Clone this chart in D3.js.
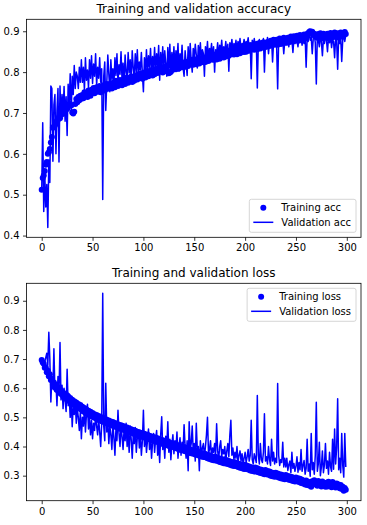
<!DOCTYPE html>
<html>
<head>
<meta charset="utf-8">
<script src="https://cdn.jsdelivr.net/npm/d3@7"></script>
<style>
  body { margin: 0; background: #fff; }
  text { font-family: "DejaVu Sans", sans-serif; fill: #000; }
</style>
</head>
<body>
<div id="chart"></div>
<script>
// values, one per epoch (0..299)
const trainAcc = [
  0.512,0.541,0.547,0.558,0.573,0.580,0.600,0.604,0.612,0.628,
  0.641,0.664,0.667,0.670,0.674,0.681,0.684,0.689,0.687,0.695,
  0.701,0.698,0.706,0.709,0.712,0.710,0.716,0.719,0.722,0.718,
  0.701,0.699,0.703,0.722,0.734,0.726,0.739,0.731,0.742,0.735,
  0.744,0.736,0.751,0.741,0.748,0.739,0.755,0.747,0.742,0.757,
  0.750,0.761,0.748,0.757,0.763,0.752,0.759,0.766,0.751,0.762,
  0.758,0.768,0.755,0.764,0.771,0.759,0.766,0.762,0.773,0.760,
  0.767,0.775,0.763,0.779,0.772,0.766,0.774,0.781,0.770,0.768,
  0.776,0.784,0.771,0.780,0.787,0.774,0.782,0.778,0.789,0.776,
  0.784,0.779,0.792,0.788,0.782,0.795,0.790,0.786,0.797,0.784,
  0.791,0.799,0.787,0.796,0.803,0.790,0.798,0.794,0.805,0.792,
  0.800,0.795,0.807,0.804,0.798,0.810,0.806,0.802,0.812,0.799,
  0.806,0.813,0.802,0.810,0.816,0.797,0.799,0.801,0.815,0.806,
  0.811,0.819,0.807,0.816,0.822,0.809,0.817,0.813,0.824,0.812,
  0.817,0.813,0.825,0.822,0.815,0.828,0.823,0.819,0.830,0.818,
  0.823,0.831,0.819,0.828,0.834,0.821,0.829,0.825,0.836,0.824,
  0.829,0.825,0.837,0.834,0.827,0.840,0.835,0.831,0.842,0.830,
  0.835,0.843,0.831,0.840,0.846,0.833,0.841,0.837,0.848,0.836,
  0.842,0.838,0.850,0.847,0.840,0.853,0.848,0.844,0.855,0.843,
  0.848,0.856,0.844,0.853,0.859,0.846,0.854,0.850,0.861,0.849,
  0.854,0.850,0.862,0.859,0.852,0.865,0.860,0.856,0.867,0.855,
  0.860,0.868,0.856,0.865,0.871,0.858,0.866,0.862,0.873,0.861,
  0.866,0.862,0.874,0.871,0.864,0.877,0.872,0.868,0.879,0.867,
  0.871,0.879,0.867,0.876,0.882,0.869,0.877,0.873,0.884,0.872,
  0.876,0.872,0.884,0.881,0.874,0.887,0.882,0.878,0.888,0.877,
  0.881,0.889,0.877,0.886,0.891,0.879,0.887,0.883,0.892,0.882,
  0.887,0.893,0.895,0.898,0.900,0.896,0.899,0.891,0.894,0.888,
  0.891,0.884,0.893,0.887,0.895,0.882,0.890,0.894,0.885,0.891,
  0.886,0.894,0.883,0.890,0.896,0.884,0.892,0.888,0.897,0.886,
  0.889,0.895,0.884,0.892,0.897,0.887,0.894,0.890,0.898,0.893
];
const valAcc = [
  0.510,0.676,0.459,0.552,0.470,0.525,0.420,0.585,0.530,0.766,
  0.760,0.582,0.720,0.745,0.600,0.705,0.760,0.580,0.766,0.690,
  0.745,0.700,0.765,0.680,0.740,0.645,0.770,0.720,0.796,0.700,
  0.790,0.745,0.816,0.760,0.800,0.790,0.760,0.812,0.775,0.830,
  0.775,0.812,0.755,0.835,0.780,0.805,0.762,0.830,0.785,0.840,
  0.772,0.820,0.790,0.845,0.768,0.812,0.785,0.835,0.775,0.808,
  0.488,0.790,0.825,0.706,0.775,0.842,0.795,0.752,0.830,0.782,
  0.808,0.770,0.835,0.792,0.845,0.775,0.818,0.795,0.850,0.780,
  0.822,0.770,0.842,0.800,0.785,0.848,0.798,0.830,0.778,0.852,
  0.810,0.788,0.845,0.800,0.855,0.790,0.825,0.805,0.848,0.795,
  0.752,0.835,0.800,0.855,0.795,0.840,0.812,0.858,0.798,0.838,
  0.808,0.860,0.800,0.845,0.815,0.865,0.780,0.848,0.810,0.862,
  0.805,0.852,0.820,0.790,0.860,0.810,0.868,0.800,0.848,0.815,
  0.862,0.808,0.852,0.825,0.870,0.802,0.845,0.818,0.866,0.810,
  0.790,0.852,0.822,0.792,0.862,0.815,0.870,0.828,0.800,0.858,
  0.835,0.868,0.842,0.810,0.865,0.838,0.872,0.828,0.855,0.845,
  0.790,0.862,0.840,0.875,0.825,0.858,0.845,0.870,0.832,0.862,
  0.800,0.855,0.845,0.872,0.835,0.866,0.850,0.878,0.840,0.862,
  0.850,0.875,0.845,0.868,0.802,0.872,0.855,0.880,0.848,0.870,
  0.858,0.878,0.852,0.875,0.862,0.882,0.855,0.870,0.865,0.880,
  0.860,0.875,0.868,0.884,0.858,0.872,0.784,0.878,0.865,0.882,
  0.862,0.875,0.761,0.870,0.880,0.858,0.876,0.866,0.882,0.800,
  0.870,0.862,0.885,0.845,0.872,0.866,0.880,0.825,0.875,0.868,
  0.884,0.862,0.759,0.878,0.870,0.886,0.865,0.880,0.845,0.876,
  0.884,0.868,0.878,0.862,0.886,0.872,0.880,0.848,0.882,0.870,
  0.885,0.875,0.862,0.888,0.872,0.884,0.866,0.880,0.870,0.888,
  0.812,0.884,0.875,0.905,0.878,0.886,0.845,0.882,0.890,0.872,
  0.771,0.885,0.878,0.862,0.886,0.874,0.840,0.882,0.870,0.887,
  0.878,0.850,0.885,0.872,0.888,0.860,0.880,0.874,0.835,0.884,
  0.876,0.807,0.886,0.870,0.884,0.826,0.880,0.888,0.875,0.892
];
const trainLoss = [
  0.697,0.688,0.684,0.670,0.672,0.655,0.660,0.641,0.648,0.628,
  0.630,0.612,0.620,0.602,0.611,0.594,0.603,0.585,0.596,0.580,
  0.590,0.572,0.583,0.568,0.578,0.560,0.572,0.556,0.566,0.551,
  0.560,0.545,0.555,0.540,0.551,0.535,0.546,0.530,0.542,0.527,
  0.536,0.520,0.532,0.516,0.527,0.511,0.523,0.508,0.519,0.504,
  0.515,0.500,0.511,0.497,0.508,0.492,0.505,0.490,0.501,0.487,
  0.499,0.484,0.496,0.481,0.492,0.478,0.489,0.475,0.486,0.472,
  0.484,0.470,0.481,0.467,0.478,0.464,0.475,0.461,0.473,0.459,
  0.470,0.457,0.467,0.454,0.465,0.451,0.462,0.448,0.459,0.446,
  0.457,0.443,0.454,0.441,0.451,0.438,0.449,0.435,0.446,0.433,
  0.445,0.431,0.442,0.429,0.440,0.426,0.437,0.424,0.434,0.421,
  0.433,0.419,0.430,0.417,0.428,0.414,0.425,0.412,0.422,0.409,
  0.421,0.408,0.418,0.405,0.416,0.402,0.413,0.400,0.410,0.398,
  0.409,0.396,0.406,0.393,0.404,0.390,0.401,0.388,0.398,0.386,
  0.398,0.384,0.395,0.382,0.392,0.379,0.390,0.377,0.387,0.375,
  0.387,0.373,0.384,0.371,0.381,0.368,0.379,0.366,0.376,0.364,
  0.376,0.363,0.373,0.360,0.371,0.357,0.368,0.355,0.365,0.353,
  0.366,0.352,0.363,0.350,0.360,0.347,0.358,0.345,0.355,0.343,
  0.356,0.342,0.353,0.340,0.350,0.337,0.348,0.335,0.345,0.333,
  0.346,0.333,0.343,0.330,0.341,0.327,0.338,0.325,0.336,0.323,
  0.337,0.323,0.334,0.321,0.331,0.318,0.329,0.316,0.326,0.314,
  0.328,0.314,0.325,0.312,0.322,0.309,0.320,0.307,0.317,0.305,
  0.319,0.305,0.316,0.303,0.314,0.300,0.311,0.298,0.309,0.296,
  0.310,0.297,0.307,0.294,0.305,0.291,0.303,0.289,0.300,0.288,
  0.302,0.289,0.299,0.286,0.297,0.284,0.295,0.282,0.292,0.280,
  0.294,0.281,0.291,0.278,0.289,0.275,0.286,0.273,0.282,0.270,
  0.283,0.268,0.279,0.266,0.276,0.262,0.281,0.270,0.284,0.272,
  0.279,0.265,0.282,0.268,0.277,0.263,0.280,0.267,0.275,0.262,
  0.276,0.263,0.279,0.265,0.274,0.260,0.278,0.266,0.272,0.259,
  0.273,0.261,0.270,0.257,0.268,0.254,0.262,0.248,0.258,0.252
];
const valLoss = [
  0.690,0.700,0.672,0.690,0.705,0.720,0.680,0.792,0.700,0.553,
  0.640,0.600,0.735,0.590,0.620,0.540,0.640,0.580,0.757,0.560,
  0.610,0.530,0.600,0.560,0.520,0.665,0.540,0.580,0.500,0.560,
  0.468,0.540,0.510,0.550,0.480,0.530,0.500,0.455,0.520,0.427,
  0.500,0.470,0.530,0.450,0.510,0.545,0.460,0.500,0.440,0.490,
  0.427,0.480,0.455,0.510,0.470,0.440,0.495,0.450,0.400,0.480,
  0.926,0.470,0.420,0.617,0.450,0.490,0.410,0.470,0.440,0.390,
  0.480,0.430,0.370,0.460,0.420,0.524,0.445,0.400,0.470,0.435,
  0.390,0.460,0.420,0.480,0.400,0.445,0.380,0.470,0.425,0.360,
  0.440,0.410,0.465,0.380,0.430,0.455,0.395,0.440,0.370,0.420,
  0.524,0.400,0.450,0.380,0.420,0.460,0.390,0.435,0.360,0.415,
  0.445,0.380,0.425,0.455,0.370,0.410,0.345,0.440,0.502,0.390,
  0.420,0.360,0.435,0.400,0.485,0.380,0.425,0.355,0.410,0.440,
  0.375,0.420,0.395,0.450,0.360,0.405,0.430,0.370,0.415,0.385,
  0.475,0.400,0.360,0.420,0.317,0.485,0.390,0.410,0.470,0.380,
  0.410,0.350,0.480,0.385,0.400,0.317,0.420,0.370,0.395,0.410,
  0.365,0.400,0.440,0.500,0.375,0.390,0.420,0.360,0.395,0.380,
  0.410,0.370,0.478,0.385,0.355,0.400,0.420,0.365,0.390,0.375,
  0.400,0.350,0.385,0.410,0.365,0.440,0.490,0.370,0.395,0.355,
  0.380,0.360,0.400,0.345,0.370,0.385,0.350,0.375,0.340,0.360,
  0.380,0.345,0.365,0.390,0.350,0.370,0.490,0.355,0.340,0.375,
  0.360,0.345,0.575,0.370,0.340,0.410,0.355,0.345,0.380,0.512,
  0.350,0.365,0.340,0.400,0.355,0.335,0.425,0.350,0.380,0.340,
  0.360,0.345,0.616,0.370,0.335,0.355,0.345,0.415,0.330,0.360,
  0.330,0.360,0.318,0.338,0.350,0.310,0.380,0.325,0.342,0.315,
  0.332,0.365,0.312,0.345,0.320,0.390,0.315,0.335,0.352,0.305,
  0.325,0.425,0.315,0.340,0.298,0.445,0.320,0.345,0.305,0.370,
  0.552,0.315,0.340,0.415,0.300,0.330,0.385,0.310,0.338,0.410,
  0.325,0.350,0.305,0.380,0.330,0.315,0.425,0.322,0.460,0.340,
  0.395,0.564,0.320,0.360,0.310,0.445,0.335,0.295,0.445,0.330
];
const xTicks = [0, 50, 100, 150, 200, 250, 300];
const accTicks = [0.4, 0.5, 0.6, 0.7, 0.8, 0.9];
const lossTicks = [0.3, 0.4, 0.5, 0.6, 0.7, 0.8, 0.9];

const width = 367, height = 525;
const blue = "#0000ff";

const svg = d3.select("#chart").append("svg")
  .attr("width", width).attr("height", height);

// pad like matplotlib's default 5% margins
function padded(lo, hi) {
  const m = (hi - lo) * 0.05;
  return [lo - m, hi + m];
}

function drawPanel(o) {
  const x = d3.scaleLinear().domain(padded(0, o.train.length - 1)).range([o.left, o.right]);
  const yLo = d3.min(o.train.concat(o.val)), yHi = d3.max(o.train.concat(o.val));
  const y = d3.scaleLinear().domain(padded(yLo, yHi)).range([o.bottom, o.top]);

  const g = svg.append("g");

  g.append("g").selectAll("circle")
    .data(o.train).enter().append("circle")
    .attr("cx", (d, i) => x(i))
    .attr("cy", d => y(d))
    .attr("r", 3)
    .attr("fill", blue);

  g.append("path")
    .datum(o.val)
    .attr("fill", "none")
    .attr("stroke", blue)
    .attr("stroke-width", 1.5)
    .attr("stroke-linejoin", "round")
    .attr("d", d3.line().x((d, i) => x(i)).y(d => y(d)));

  const xAxis = g.append("g").attr("transform", `translate(0,${o.bottom})`)
    .call(d3.axisBottom(x).tickValues(xTicks).tickFormat(d3.format("d"))
      .tickSize(3.5).tickPadding(3.5).tickSizeOuter(0));
  const yAxis = g.append("g").attr("transform", `translate(${o.left},0)`)
    .call(d3.axisLeft(y).tickValues(o.yTicks).tickFormat(d3.format(".1f"))
      .tickSize(3.5).tickPadding(3.5).tickSizeOuter(0));
  [xAxis, yAxis].forEach(a => {
    a.select(".domain").remove();
    a.selectAll("line").attr("stroke", "#000").attr("stroke-width", 0.8);
    a.selectAll("text").attr("font-size", 10).attr("font-family", "DejaVu Sans").attr("fill", "#000");
  });

  g.append("rect")
    .attr("x", o.left).attr("y", o.top)
    .attr("width", o.right - o.left).attr("height", o.bottom - o.top)
    .attr("fill", "none").attr("stroke", "#000").attr("stroke-width", 0.8);

  g.append("text")
    .attr("x", (o.left + o.right) / 2).attr("y", o.top - 6)
    .attr("text-anchor", "middle").attr("font-size", 12)
    .text(o.title);

  // legend
  const lg = g.append("g");
  const box = lg.append("rect")
    .attr("fill", "#fff").attr("fill-opacity", 0.8)
    .attr("stroke", "#cccccc").attr("stroke-width", 0.8).attr("rx", 2);
  const t1 = lg.append("text").attr("font-size", 10).text(o.labels[0]);
  const t2 = lg.append("text").attr("font-size", 10).text(o.labels[1]);
  const tw = Math.max(t1.node().getComputedTextLength(), t2.node().getComputedTextLength());
  const bw = 32 + tw + 5, bh = 33;
  const bx = o.right - 5 - bw;
  const by = o.legendTop ? o.top + 5 : o.bottom - 5 - bh;
  box.attr("x", bx).attr("y", by).attr("width", bw).attr("height", bh);
  lg.append("circle").attr("cx", bx + 14).attr("cy", by + 8.5).attr("r", 3).attr("fill", blue);
  lg.append("line").attr("x1", bx + 4).attr("x2", bx + 24)
    .attr("y1", by + 23).attr("y2", by + 23)
    .attr("stroke", blue).attr("stroke-width", 1.5);
  t1.attr("x", bx + 32).attr("y", by + 8.5).attr("dy", "0.35em");
  t2.attr("x", bx + 32).attr("y", by + 23).attr("dy", "0.35em");
}

drawPanel({
  train: trainAcc, val: valAcc, yTicks: accTicks,
  left: 26.5, right: 361, top: 19.3, bottom: 237.3,
  title: "Training and validation accuracy",
  labels: ["Training acc", "Validation acc"], legendTop: false
});
drawPanel({
  train: trainLoss, val: valLoss, yTicks: lossTicks,
  left: 26.5, right: 361, top: 283.3, bottom: 500.7,
  title: "Training and validation loss",
  labels: ["Training loss", "Validation loss"], legendTop: true
});
</script>
</body>
</html>
